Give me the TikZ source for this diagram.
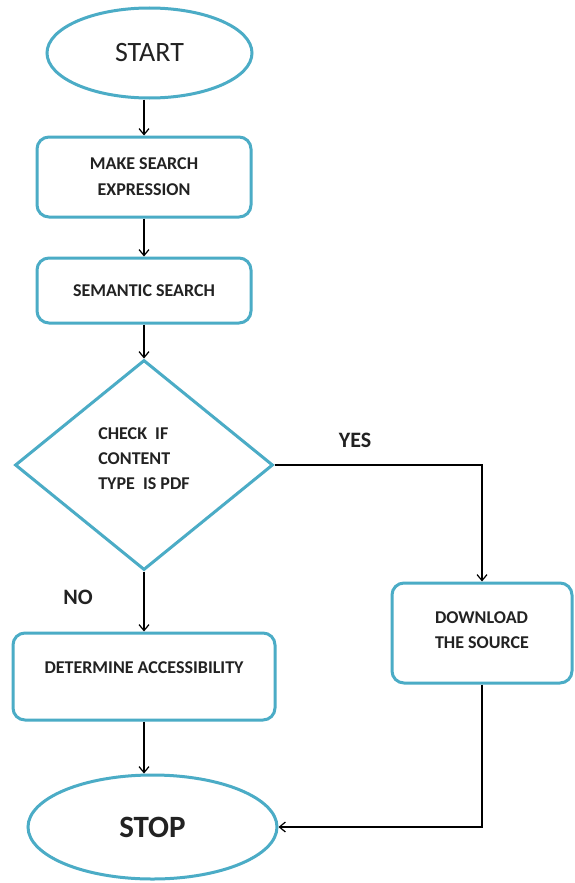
\documentclass[tikz,border=0pt]{standalone}
\usepackage{fontspec}
\setmainfont{Carlito}
\usetikzlibrary{shapes.geometric,arrows.meta}
\definecolor{edgeblue}{HTML}{4BACC6}
\definecolor{ink}{HTML}{222222}
\begin{document}
\begin{tikzpicture}[x=1pt,y=-1pt,
  outline/.style={draw=edgeblue, line width=3pt, fill=white, text=ink, inner sep=0pt},
  terminal/.style={outline, ellipse},
  process/.style={outline, rounded corners=12pt, align=center,
    font=\bfseries\fontsize{18}{26}\selectfont},
  decision/.style={outline, diamond, align=left,
    font=\bfseries\fontsize{18}{25}\selectfont},
  conn/.style={draw=black, line width=1.4pt,
    -{Straight Barb[length=6pt,width=10pt,line width=1.2pt]}},
  answer/.style={text=ink, font=\bfseries\fontsize{22}{24}\selectfont}]
\useasboundingbox (0,0) rectangle (574,883);
\fill[white] (0,0) rectangle (574,883);

% flow nodes
\node[terminal, minimum width=205pt, minimum height=90pt] (start) at (149.5,53)
  {\fontsize{28}{30}\selectfont START};
\node[process, minimum width=214pt, minimum height=80pt] (make) at (144,177)
  {MAKE SEARCH\\EXPRESSION};
\node[process, minimum width=214pt, minimum height=65pt] (sem) at (144,290.5)
  {SEMANTIC SEARCH};
\node[decision, minimum width=258pt, minimum height=210pt, text depth=12pt] (check) at (144,465)
  {CHECK\ \ IF\\CONTENT\\TYPE\ \ IS PDF};
\node[process, minimum width=180pt, minimum height=100pt, align=left,
  font=\bfseries\fontsize{18}{25}\selectfont, text depth=5pt] (down) at (482,633)
  {DOWNLOAD\\THE SOURCE};
\node[process, minimum width=262pt, minimum height=87pt, text depth=18pt] (acc) at (144,676.5)
  {DETERMINE ACCESSIBILITY};
\node[terminal, minimum width=249pt, minimum height=104pt,
  font=\bfseries\fontsize{31}{33}\selectfont] (stop) at (152.5,827) {STOP};

% branch labels
\node[answer] (yes) at (355,440) {YES};
\node[answer] (no) at (78,597) {NO};

% connectors
\draw[conn] (start.south -| make.north) -- (make.north);
\draw[conn] (make.south) -- (sem.north);
\draw[conn] (sem.south) -- (check.north);
\draw[conn] (check.east) -| (down.north);
\draw[conn] (check.south) -- (acc.north);
\draw[conn] (acc.south) -- (acc.south |- stop.north);
\draw[conn] (down.south) |- (stop.east);
\end{tikzpicture}
\end{document}
